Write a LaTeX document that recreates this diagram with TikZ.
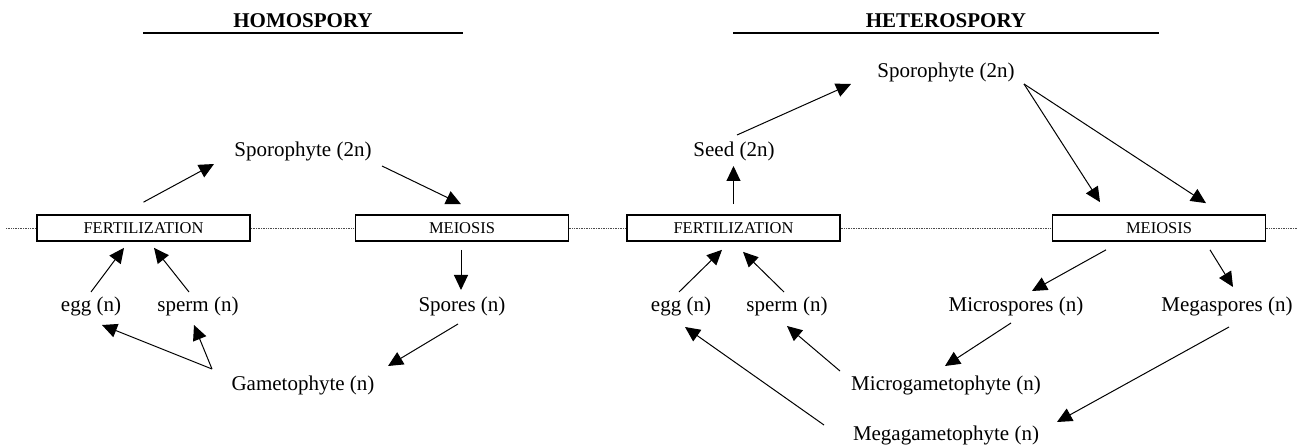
\documentclass[tikz,border=0pt]{standalone}
\usepackage{fontspec}
\setmainfont{Liberation Serif}
\usetikzlibrary{arrows.meta}
\tikzset{
  lbl/.style={inner sep=0pt, anchor=base, font=\fontsize{21}{25}\selectfont},
  hdr/.style={inner sep=0pt, anchor=base, font=\fontsize{21}{25}\selectfont\bfseries},
  bx/.style={draw, line width=1.7pt, fill=white, minimum width=213pt, minimum height=26pt, inner sep=0pt, font=\fontsize{16.5}{20}\selectfont},
  arr/.style={line width=1pt, -{Triangle[length=15pt,width=14pt]}},
  uline/.style={line width=1.3pt},
  dotline/.style={line width=0.7pt, draw=black!70, dash pattern=on 0.8pt off 0.9pt}
}
\begin{document}
\begin{tikzpicture}[x=1pt, y=-1pt]
\useasboundingbox (0,0) rectangle (1298,446);
% dotted base line
\draw[dotline] (6,228) -- (1298,228);
% headers
\node[hdr] (homT) at (303,28) {HOMOSPORY};
\node[hdr] (hetT) at (946,28) {HETEROSPORY};
\draw[uline] (143,33) -- (463,33);
\draw[uline] (733,33) -- (1159,33);
% ---------- homospory ----------
\node[bx] (fertL) at (143.5,228) {FERTILIZATION};
\node[bx] (meiL) at (462,228) {MEIOSIS};
\node[lbl] (sporL) at (303,157) {Sporophyte (2n)};
\node[lbl] (eggL) at (91,312) {egg (n)};
\node[lbl] (spermL) at (198,312) {sperm (n)};
\node[lbl] (sporesL) at (462,312) {Spores (n)};
\node[lbl] (gamL) at (303,390) {Gametophyte (n)};
\draw[arr] ([shift={(0,-12)}]fertL.north) -- ([shift={(-89,7)}]sporL.base);
\draw[arr] ([shift={(79,9)}]sporL.base) -- ([shift={(-1,-10)}]meiL.north);
\draw[arr] ([shift={(0,-20)}]eggL.base) -- ([shift={(-19.5,6)}]fertL.south);
\draw[arr] ([shift={(-9,-20)}]spermL.base) -- ([shift={(10.5,6)}]fertL.south);
\draw[arr] ([shift={(-1,8)}]meiL.south) -- ([shift={(-1,-22)}]sporesL.base);
\draw[arr] ([shift={(-4,12)}]sporesL.base) -- ([shift={(85,-24)}]gamL.base);
\draw[arr] ([shift={(-91,-21)}]gamL.base) -- ([shift={(11,13)}]eggL.base);
\draw[arr] ([shift={(-91,-21)}]gamL.base) -- ([shift={(-4,13)}]spermL.base);
% ---------- heterospory ----------
\node[bx] (fertR) at (733.5,228) {FERTILIZATION};
\node[bx] (meiR) at (1159,228) {MEIOSIS};
\node[lbl] (sporR) at (946,78) {Sporophyte (2n)};
\node[lbl] (seed) at (734,157) {Seed (2n)};
\node[lbl] (eggR) at (681,312) {egg (n)};
\node[lbl] (spermR) at (787,312) {sperm (n)};
\node[lbl] (micro) at (1016,312) {Microspores (n)};
\node[lbl] (mega) at (1227,312) {Megaspores (n)};
\node[lbl] (microG) at (946,390) {Microgametophyte (n)};
\node[lbl] (megaG) at (946,440) {Megagametophyte (n)};
\draw[arr] ([shift={(0,-10)}]fertR.north) -- ([shift={(-0.5,9)}]seed.base);
\draw[arr] ([shift={(3,-22)}]seed.base) -- ([shift={(-95,6)}]sporR.base);
\draw[arr] ([shift={(78,6)}]sporR.base) -- ([shift={(-59,-12)}]meiR.north);
\draw[arr] ([shift={(78,6)}]sporR.base) -- ([shift={(47,-11)}]meiR.north);
\draw[arr] ([shift={(-2,-20)}]eggR.base) -- ([shift={(-11.5,8)}]fertR.south);
\draw[arr] ([shift={(-3,-20)}]spermR.base) -- ([shift={(9.5,10)}]fertR.south);
\draw[arr] ([shift={(-53,8)}]meiR.south) -- ([shift={(16,-21)}]micro.base);
\draw[arr] ([shift={(51,8)}]meiR.south) -- ([shift={(6,-25)}]mega.base);
\draw[arr] ([shift={(-5,11)}]micro.base) -- ([shift={(-1,-24)}]microG.base);
\draw[arr] ([shift={(2,15)}]mega.base) -- ([shift={(111,-18)}]megaG.base);
\draw[arr] ([shift={(-106,-19)}]microG.base) -- ([shift={(0,14)}]spermR.base);
\draw[arr] ([shift={(-122,-15)}]megaG.base) -- ([shift={(4,15)}]eggR.base);
\end{tikzpicture}
\end{document}
